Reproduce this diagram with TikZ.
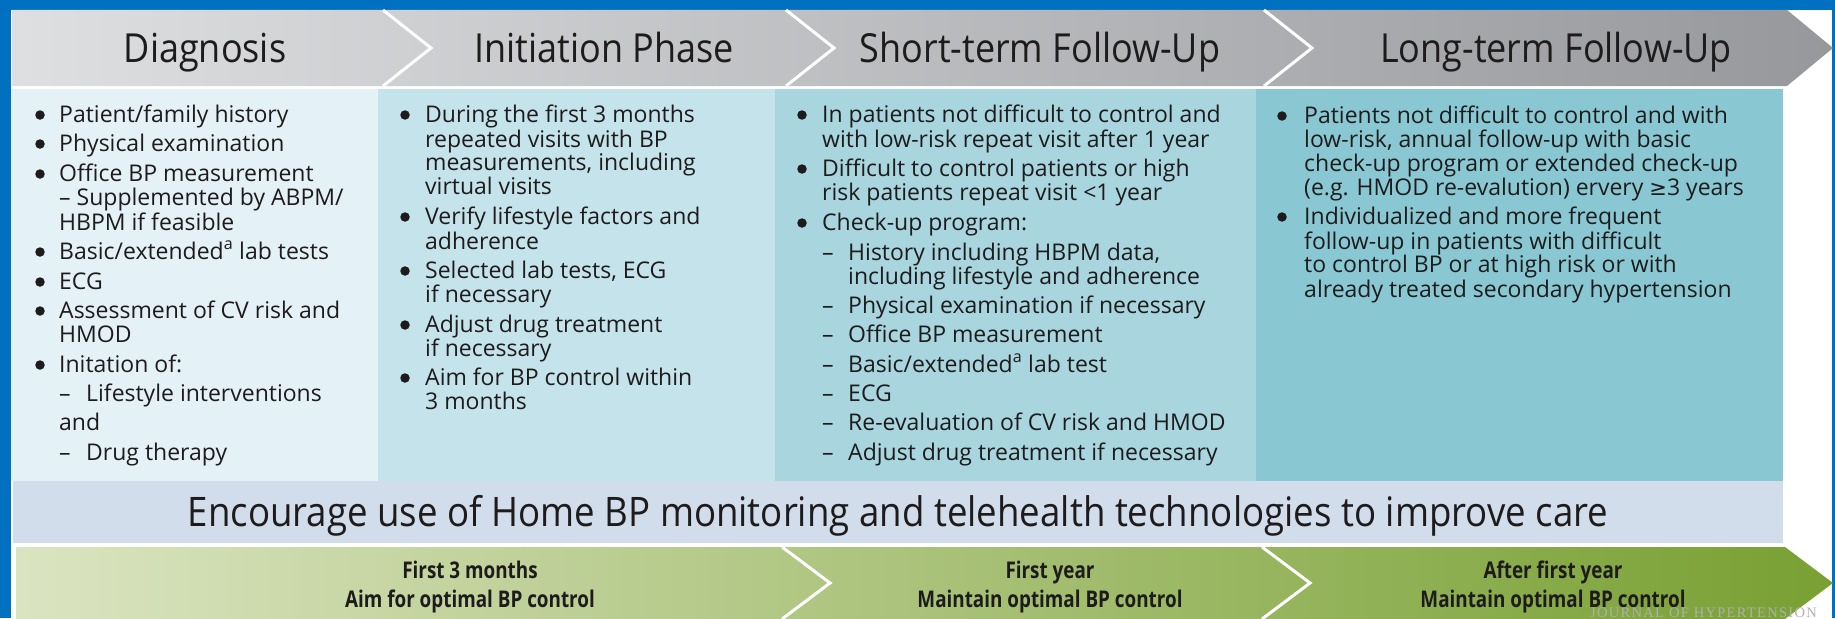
\documentclass[tikz,border=0pt]{standalone}
\usepackage{fontspec}
\setmainfont{Open Sans}
\newfontfamily\hdfont[FakeStretch=0.9]{Open Sans}
\newfontfamily\bandfont[FakeStretch=0.9]{Open Sans}
\newfontfamily\stagefont[FakeStretch=0.82]{Open Sans}
\newfontfamily\symfont{DejaVu Sans}
\newfontfamily\markfont[LetterSpace=9]{Liberation Serif}

\definecolor{frameblue}{RGB}{0,112,192}
\definecolor{hdL}{RGB}{222,223,225}
\definecolor{hdR}{RGB}{150,152,155}
\definecolor{colA}{RGB}{228,241,247}
\definecolor{colB}{RGB}{197,227,234}
\definecolor{colC}{RGB}{168,213,222}
\definecolor{colD}{RGB}{137,200,211}
\definecolor{bandbg}{RGB}{209,221,234}
\definecolor{grL}{RGB}{219,228,193}
\definecolor{grR}{RGB}{120,160,50}
\definecolor{ink}{RGB}{30,27,28}
\definecolor{markgray}{RGB}{175,175,175}

\tikzset{
  body/.style={anchor=base west, inner sep=0pt, text=ink,
               font=\fontsize{23}{24}\selectfont},
  bul/.style={circle, fill=ink, inner sep=0pt, minimum size=9.5pt},
  hdtext/.style={anchor=base, inner sep=0pt, text=ink,
                 font=\hdfont\fontsize{40}{40}\selectfont},
  bandtext/.style={anchor=base, inner sep=0pt, text=ink,
                   font=\bandfont\fontsize{40.7}{41}\selectfont},
  stagetext/.style={anchor=base, inner sep=0pt, text=ink,
                    font=\stagefont\bfseries\fontsize{23}{23}\selectfont},
  sep/.style={white, line width=3pt, line join=miter},
}

\begin{document}
\begin{tikzpicture}[x=1pt,y=-1pt]
\useasboundingbox (0,0) rectangle (1835,618);
\clip (0,0) rectangle (1835,618);

% blue frame
\fill[frameblue] (0,0) rectangle (1835,10);
\fill[frameblue] (0,0) rectangle (11,618);
\fill[frameblue] (1832,0) rectangle (1835,618);

% phase header arrow
\shade[left color=hdL, right color=hdR]
  (12,10) -- (1787,10) -- (1833,48) -- (1787,86) -- (12,86) -- cycle;
\draw[sep] (383,10) -- (431,48) -- (383,86);
\draw[sep] (786,10) -- (834,48) -- (786,86);
\draw[sep] (1264,10) -- (1312,48) -- (1264,86);

\node[hdtext] (hDiag) at (205,63) {Diagnosis};
\node[hdtext] (hInit) at (604,63) {Initiation Phase};
\node[hdtext] (hShort) at (1040,63) {Short-term Follow-Up};
\node[hdtext] (hLong) at (1556,63) {Long-term Follow-Up};

% content columns
\fill[colA] (11,89) rectangle (378,481);
\fill[colB] (378,89) rectangle (775,481);
\fill[colC] (775,89) rectangle (1256,481);
\fill[colD] (1256,89) rectangle (1783,481);

% Diagnosis
\node[bul] (a1) at (40,115) {};
\node[body] (a1t) at (59,122) {Patient/family history};
\node[bul] (a2) at (40,144) {};
\node[body] (a2t) at (59,151) {Physical examination};
\node[bul] (a3) at (40,174) {};
\node[body] (a3t) at (59,181) {Office BP measurement};
\node[body] (a3u) at (59,205) {– Supplemented by ABPM/};
\node[body] (a3v) at (59,230) {HBPM if feasible};
\node[bul] (a4) at (40,252) {};
\node[body] (a4t) at (59,259) {Basic/extended\textsuperscript{a} lab tests};
\node[bul] (a5) at (40,282) {};
\node[body] (a5t) at (59,289) {ECG};
\node[bul] (a6) at (40,311) {};
\node[body] (a6t) at (59,318) {Assessment of CV risk and};
\node[body] (a6u) at (59,342) {HMOD};
\node[bul] (a7) at (40,365) {};
\node[body] (a7t) at (59,372) {Initation of:};
\node[body] (a7d) at (59,401) {–};
\node[body] (a7u) at (86,401) {Lifestyle interventions};
\node[body] (a7v) at (59,430) {and};
\node[body] (a7e) at (59,460) {–};
\node[body] (a7w) at (86,460) {Drug therapy};

% Initiation phase
\node[bul] (b1) at (405,115) {};
\node[body] (b1t) at (425,122) {During the first 3 months};
\node[body] (b1u) at (425,147) {repeated visits with BP};
\node[body] (b1v) at (425,170) {measurements, including};
\node[body] (b1w) at (425,194) {virtual visits};
\node[bul] (b2) at (405,217) {};
\node[body] (b2t) at (425,224) {Verify lifestyle factors and};
\node[body] (b2u) at (425,249) {adherence};
\node[bul] (b3) at (405,271) {};
\node[body] (b3t) at (425,278) {Selected lab tests, ECG};
\node[body] (b3u) at (425,302) {if necessary};
\node[bul] (b4) at (405,325) {};
\node[body] (b4t) at (425,332) {Adjust drug treatment};
\node[body] (b4u) at (425,356) {if necessary};
\node[bul] (b5) at (405,378) {};
\node[body] (b5t) at (425,385) {Aim for BP control within};
\node[body] (b5u) at (425,409) {3 months};

% Short-term follow-up
\node[bul] (c1) at (802,115) {};
\node[body] (c1t) at (822,122) {In patients not difficult to control and};
\node[body] (c1u) at (822,147) {with low-risk repeat visit after 1 year};
\node[bul] (c2) at (802,169) {};
\node[body] (c2t) at (822,176) {Difficult to control patients or high};
\node[body] (c2u) at (822,200) {risk patients repeat visit <1 year};
\node[bul] (c3) at (802,223) {};
\node[body] (c3t) at (822,230) {Check-up program:};
\node[body] (c3d1) at (822,260) {–};
\node[body] (c3s1) at (848,260) {History including HBPM data,};
\node[body] (c3s1b) at (848,284) {including lifestyle and adherence};
\node[body] (c3d2) at (822,313) {–};
\node[body] (c3s2) at (848,313) {Physical examination if necessary};
\node[body] (c3d3) at (822,342) {–};
\node[body] (c3s3) at (848,342) {Office BP measurement};
\node[body] (c3d4) at (822,372) {–};
\node[body] (c3s4) at (848,372) {Basic/extended\textsuperscript{a} lab test};
\node[body] (c3d5) at (822,401) {–};
\node[body] (c3s5) at (848,401) {ECG};
\node[body] (c3d6) at (822,430) {–};
\node[body] (c3s6) at (848,430) {Re-evaluation of CV risk and HMOD};
\node[body] (c3d7) at (822,460) {–};
\node[body] (c3s7) at (848,460) {Adjust drug treatment if necessary};

% Long-term follow-up
\node[bul] (d1) at (1282,116) {};
\node[body] (d1t) at (1304,123) {Patients not difficult to control and with};
\node[body] (d1u) at (1304,147) {low-risk, annual follow-up with basic};
\node[body] (d1v) at (1304,171) {check-up program or extended check-up};
\node[body] (d1w) at (1304,195) {(e.g. HMOD re-evalution) ervery {\symfont\fontsize{21}{24}\selectfont ≥}3 years};
\node[bul] (d2) at (1282,217) {};
\node[body] (d2t) at (1304,224) {Individualized and more frequent};
\node[body] (d2u) at (1304,249) {follow-up in patients with difficult};
\node[body] (d2v) at (1304,272) {to control BP or at high risk or with};
\node[body] (d2w) at (1304,297) {already treated secondary hypertension};

% home monitoring band
\fill[bandbg] (13,481) rectangle (1783,543);
\node[bandtext] (enc) at (898,526)
  {Encourage use of Home BP monitoring and telehealth technologies to improve care};

% treatment goal arrow
\shade[left color=grL, right color=grR]
  (16,547) -- (1785,547) -- (1833,583) -- (1785,619) -- (16,619) -- cycle;
\draw[sep] (782,547) -- (830,583) -- (782,619);
\draw[sep] (1262,547) -- (1310,583) -- (1262,619);

\node[stagetext] (g1a) at (470,578) {First 3 months};
\node[stagetext] (g1b) at (470,607) {Aim for optimal BP control};
\node[stagetext] (g2a) at (1050,578) {First year};
\node[stagetext] (g2b) at (1050,607) {Maintain optimal BP control};
\node[stagetext] (g3a) at (1553,578) {After first year};
\node[stagetext] (g3b) at (1553,607) {Maintain optimal BP control};

% journal mark
\node[anchor=base west, inner sep=0pt, text=markgray,
      font=\markfont\fontsize{14.5}{15}\selectfont] (mark) at (1590,617)
  {JOURNAL OF HYPERTENSION};
\end{tikzpicture}
\end{document}
